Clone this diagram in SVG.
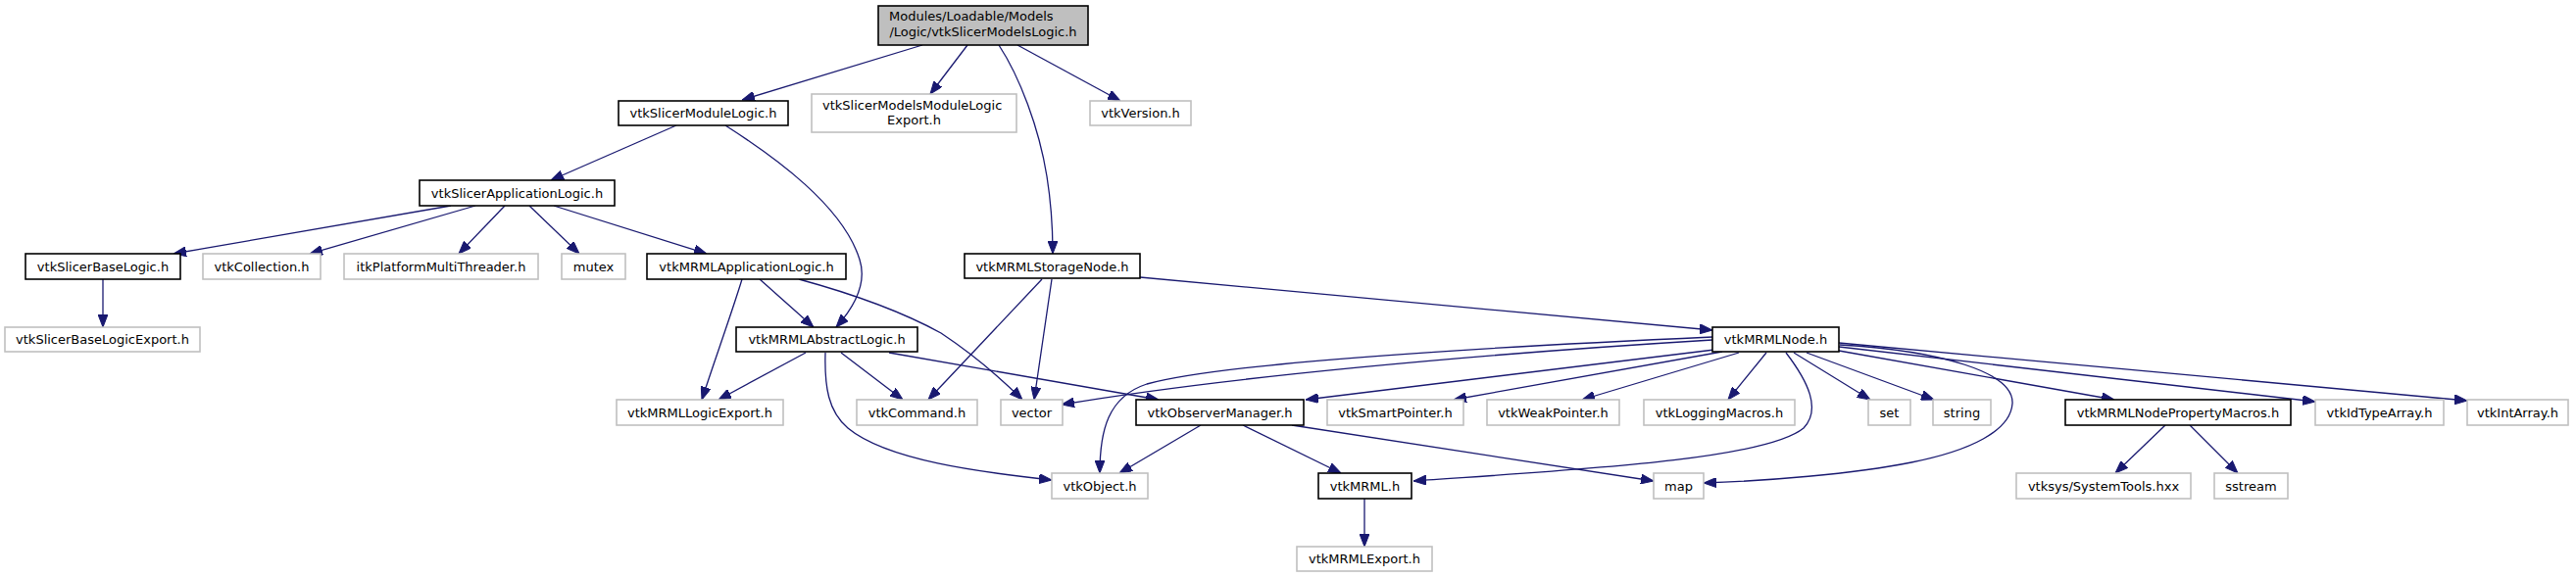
<svg xmlns="http://www.w3.org/2000/svg" width="2628" height="589" viewBox="0 0 2628 589">
<style>
  .n rect { fill: #ffffff; stroke: #000000; stroke-width: 1.6; }
  .g rect { fill: #ffffff; stroke: #c0c0c0; stroke-width: 1.6; }
  .root rect { fill: #bfbfbf; stroke: #000000; stroke-width: 1.6; }
  text { font-family: "DejaVu Sans", "Liberation Sans", sans-serif; font-size: 13px; fill: #000000; }
  .c { text-anchor: middle; }
  #edges path { fill: none; stroke: #191970; stroke-width: 1.3; marker-end: url(#arr); }
</style>
<defs>
  <marker id="arr" viewBox="0 0 13 10" refX="13" refY="5" markerWidth="13" markerHeight="10" orient="auto" markerUnits="userSpaceOnUse">
    <path d="M0,0 L13,5 L0,10 z" fill="#191970" stroke="#191970" stroke-width="1"/>
  </marker>
</defs>
<rect width="2628" height="589" fill="#ffffff"/>

<g id="edges">
  <path d="M941,46 L757,102"/>
  <path d="M987,46 L949,96"/>
  <path d="M1019,46 C1040,78 1060,130 1068,180 C1072,205 1074,235 1074,259"/>
  <path d="M1038,46 L1143,103"/>
  <path d="M690,128 L562,184"/>
  <path d="M740,128 C790,160 860,210 877,265 C885,290 870,315 853,334"/>
  <path d="M460,210 L177,259"/>
  <path d="M485,210 L316,259"/>
  <path d="M515,210 L468,259"/>
  <path d="M540,210 L591,259"/>
  <path d="M565,210 L721,259"/>
  <path d="M105,285 L105,334"/>
  <path d="M757,285 C747,318 730,365 716,408"/>
  <path d="M775,285 L830,334"/>
  <path d="M815,285 C870,300 920,318 960,340 C990,360 1020,385 1043,408"/>
  <path d="M822,360 L733,408"/>
  <path d="M858,360 L921,408"/>
  <path d="M842,360 C841,395 845,420 865,437 C905,470 1000,482 1073,490"/>
  <path d="M907,360 L1182,408"/>
  <path d="M1063,285 L947,408"/>
  <path d="M1073,285 L1055,408"/>
  <path d="M1163,283 L1747,337"/>
  <path d="M1747,347 C1500,362 1250,385 1083,413"/>
  <path d="M1747,344 C1500,355 1250,370 1170,392 C1130,405 1122,440 1122,483"/>
  <path d="M1749,357 L1332,408"/>
  <path d="M1757,359 L1483,408"/>
  <path d="M1774,360 L1614,408"/>
  <path d="M1802,360 L1763,408"/>
  <path d="M1822,360 C1845,390 1858,418 1840,437 C1800,470 1600,480 1442,491"/>
  <path d="M1830,360 L1908,408"/>
  <path d="M1843,360 L1973,408"/>
  <path d="M1877,352 C1980,358 2055,380 2053,412 C2051,440 2010,460 1950,472 C1890,484 1800,491 1738,493"/>
  <path d="M1876,358 L2157,408"/>
  <path d="M1876,354 L2362,410"/>
  <path d="M1876,350 L2517,409"/>
  <path d="M1225,434 L1142,483"/>
  <path d="M1268,434 L1368,483"/>
  <path d="M1318,434 L1687,491"/>
  <path d="M1392,509 L1392,558"/>
  <path d="M2209,434 L2158,483"/>
  <path d="M2234,434 L2283,483"/>
</g>

<g id="root" class="root"><rect x="896" y="6" width="214" height="40"/><text x="907" y="21">Modules/Loadable/Models</text><text class="c" x="1003" y="37">/Logic/vtkSlicerModelsLogic.h</text></g>

<g id="n_vtkSlicerModuleLogic" class="n"><rect x="631" y="103" width="173" height="25"/><text class="c" x="717.5" y="120">vtkSlicerModuleLogic.h</text></g>
<g id="n_vtkSlicerModelsModuleLogicExport" class="g"><rect x="828" y="96" width="209" height="39"/><text x="839" y="111.5">vtkSlicerModelsModuleLogic</text><text class="c" x="932.5" y="127">Export.h</text></g>
<g id="n_vtkVersion" class="g"><rect x="1112" y="103" width="103" height="25"/><text class="c" x="1163.5" y="120">vtkVersion.h</text></g>

<g id="n_vtkSlicerApplicationLogic" class="n"><rect x="428" y="184" width="199" height="26"/><text class="c" x="527.5" y="201.5">vtkSlicerApplicationLogic.h</text></g>

<g id="n_vtkSlicerBaseLogic" class="n"><rect x="26" y="259" width="158" height="26"/><text class="c" x="105" y="276.5">vtkSlicerBaseLogic.h</text></g>
<g id="n_vtkCollection" class="g"><rect x="207" y="259" width="120" height="26"/><text class="c" x="267" y="276.5">vtkCollection.h</text></g>
<g id="n_itkPlatformMultiThreader" class="g"><rect x="351" y="259" width="198" height="26"/><text class="c" x="450" y="276.5">itkPlatformMultiThreader.h</text></g>
<g id="n_mutex" class="g"><rect x="573" y="259" width="65" height="26"/><text class="c" x="605.5" y="276.5">mutex</text></g>
<g id="n_vtkMRMLApplicationLogic" class="n"><rect x="660" y="259" width="203" height="26"/><text class="c" x="761.5" y="276.5">vtkMRMLApplicationLogic.h</text></g>
<g id="n_vtkMRMLStorageNode" class="n"><rect x="984" y="259" width="179" height="25"/><text class="c" x="1073.5" y="276.5">vtkMRMLStorageNode.h</text></g>

<g id="n_vtkSlicerBaseLogicExport" class="g"><rect x="5" y="334" width="199" height="25"/><text class="c" x="104.5" y="351">vtkSlicerBaseLogicExport.h</text></g>
<g id="n_vtkMRMLAbstractLogic" class="n"><rect x="751" y="334" width="185" height="25"/><text class="c" x="843.5" y="351">vtkMRMLAbstractLogic.h</text></g>
<g id="n_vtkMRMLNode" class="n"><rect x="1747" y="334" width="129" height="25"/><text class="c" x="1811.5" y="351">vtkMRMLNode.h</text></g>

<g id="n_vtkMRMLLogicExport" class="g"><rect x="629" y="408" width="170" height="26"/><text class="c" x="714" y="425.5">vtkMRMLLogicExport.h</text></g>
<g id="n_vtkCommand" class="g"><rect x="874" y="408" width="123" height="26"/><text class="c" x="935.5" y="425.5">vtkCommand.h</text></g>
<g id="n_vector" class="g"><rect x="1021" y="408" width="63" height="26"/><text class="c" x="1052.5" y="425.5">vector</text></g>
<g id="n_vtkObserverManager" class="n"><rect x="1159" y="408" width="171" height="26"/><text class="c" x="1244.5" y="425.5">vtkObserverManager.h</text></g>
<g id="n_vtkSmartPointer" class="g"><rect x="1354" y="408" width="139" height="26"/><text class="c" x="1423.5" y="425.5">vtkSmartPointer.h</text></g>
<g id="n_vtkWeakPointer" class="g"><rect x="1517" y="408" width="135" height="26"/><text class="c" x="1584.5" y="425.5">vtkWeakPointer.h</text></g>
<g id="n_vtkLoggingMacros" class="g"><rect x="1677" y="408" width="154" height="26"/><text class="c" x="1754" y="425.5">vtkLoggingMacros.h</text></g>
<g id="n_set" class="g"><rect x="1906" y="408" width="43" height="26"/><text class="c" x="1927.5" y="425.5">set</text></g>
<g id="n_string" class="g"><rect x="1972" y="408" width="59" height="26"/><text class="c" x="2001.5" y="425.5">string</text></g>
<g id="n_vtkMRMLNodePropertyMacros" class="n"><rect x="2107" y="408" width="230" height="26"/><text class="c" x="2222" y="425.5">vtkMRMLNodePropertyMacros.h</text></g>
<g id="n_vtkIdTypeArray" class="g"><rect x="2362" y="408" width="131" height="26"/><text class="c" x="2427.5" y="425.5">vtkIdTypeArray.h</text></g>
<g id="n_vtkIntArray" class="g"><rect x="2517" y="408" width="103" height="26"/><text class="c" x="2568.5" y="425.5">vtkIntArray.h</text></g>

<g id="n_vtkObject" class="g"><rect x="1073" y="483" width="98" height="26"/><text class="c" x="1122" y="500.5">vtkObject.h</text></g>
<g id="n_vtkMRML" class="n"><rect x="1345" y="483" width="95" height="26"/><text class="c" x="1392.5" y="500.5">vtkMRML.h</text></g>
<g id="n_map" class="g"><rect x="1687" y="483" width="51" height="26"/><text class="c" x="1712.5" y="500.5">map</text></g>
<g id="n_vtksysSystemTools" class="g"><rect x="2057" y="483" width="178" height="26"/><text class="c" x="2146" y="500.5">vtksys/SystemTools.hxx</text></g>
<g id="n_sstream" class="g"><rect x="2259" y="483" width="75" height="26"/><text class="c" x="2296.5" y="500.5">sstream</text></g>

<g id="n_vtkMRMLExport" class="g"><rect x="1323" y="558" width="138" height="25"/><text class="c" x="1392" y="575">vtkMRMLExport.h</text></g>
</svg>
